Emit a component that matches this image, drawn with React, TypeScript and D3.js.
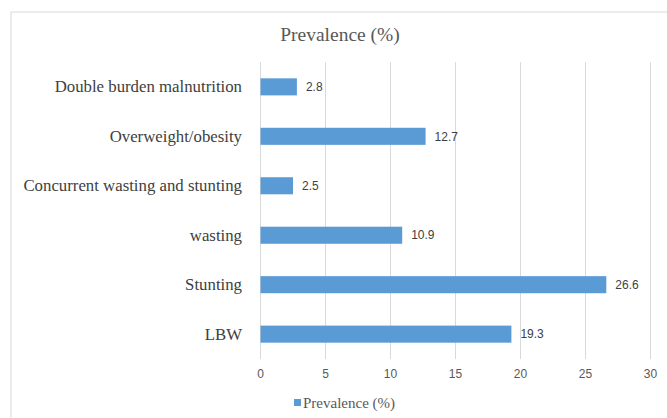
import * as d3 from "d3";
import { useEffect, useRef } from "react";

const categories = [
  "Double burden malnutrition",
  "Overweight/obesity",
  "Concurrent wasting and stunting",
  "wasting",
  "Stunting",
  "LBW",
];
const values = [2.8, 12.7, 2.5, 10.9, 26.6, 19.3];
const xTicks = [0, 5, 10, 15, 20, 25, 30];
const seriesName = "Prevalence (%)";

const W = 667;
const H = 418;
const BAR = "#5b9bd5";
const SERIF = "'Liberation Serif', 'Times New Roman', serif";
const SANS = "'Liberation Sans Narrow', 'Liberation Sans', Arial, sans-serif";

const App = () => {
  const ref = useRef<SVGSVGElement>(null);

  useEffect(() => {
    const svgEl = ref.current;
    if (!svgEl) return;
    const svg = d3.select(svgEl);
    svg.selectAll("*").remove();

    const x = d3.scaleLinear().domain([0, 30]).range([260.5, 650.5]);
    const y = d3
      .scaleBand<string>()
      .domain(categories)
      .range([62, 359])
      .paddingInner(0.655)
      .paddingOuter(0.33);

    // chart frame (cropped on right and bottom)
    svg
      .append("rect")
      .attr("x", 11)
      .attr("y", 12)
      .attr("width", W + 20)
      .attr("height", H + 20)
      .attr("fill", "#fff")
      .attr("stroke", "#d9d9d9")
      .attr("stroke-width", 1);

    svg
      .append("text")
      .attr("x", 340)
      .attr("y", 41)
      .attr("text-anchor", "middle")
      .attr("font-family", SERIF)
      .attr("font-size", 19.5)
      .attr("fill", "#595959")
      .text(seriesName);

    // gridlines
    svg
      .append("g")
      .selectAll("line")
      .data(xTicks)
      .join("line")
      .attr("x1", (d) => x(d))
      .attr("x2", (d) => x(d))
      .attr("y1", 62)
      .attr("y2", 359)
      .attr("stroke", "#d9d9d9")
      .attr("stroke-width", 1);

    // x tick labels
    svg
      .append("g")
      .selectAll("text")
      .data(xTicks)
      .join("text")
      .attr("x", (d) => x(d))
      .attr("y", 378)
      .attr("text-anchor", "middle")
      .attr("font-family", SANS)
      .attr("font-size", 12)
      .attr("fill", "#595959")
      .text((d) => d);

    // category labels
    svg
      .append("g")
      .selectAll("text")
      .data(categories)
      .join("text")
      .attr("x", 242)
      .attr("y", (d) => (y(d) ?? 0) + y.bandwidth() / 2)
      .attr("dy", "0.33em")
      .attr("text-anchor", "end")
      .attr("font-family", SERIF)
      .attr("font-size", 16.8)
      .attr("fill", "#404040")
      .text((d) => d);

    // bars
    svg
      .append("g")
      .selectAll("rect")
      .data(values)
      .join("rect")
      .attr("x", x(0))
      .attr("y", (_, i) => y(categories[i]) ?? 0)
      .attr("width", (d) => x(d) - x(0))
      .attr("height", y.bandwidth())
      .attr("fill", BAR);

    // value labels
    svg
      .append("g")
      .selectAll("text")
      .data(values)
      .join("text")
      .attr("x", (d) => x(d) + 9)
      .attr("y", (_, i) => (y(categories[i]) ?? 0) + y.bandwidth() / 2)
      .attr("dy", "0.35em")
      .attr("font-family", SANS)
      .attr("font-size", 12)
      .attr("fill", "#404040")
      .text((d) => d.toFixed(1));

    // legend
    const leg = svg.append("g").attr("transform", "translate(294,399)");
    leg.append("rect").attr("width", 7).attr("height", 7).attr("fill", BAR);
    leg
      .append("text")
      .attr("x", 9)
      .attr("y", 4)
      .attr("dy", "0.33em")
      .attr("font-family", SERIF)
      .attr("font-size", 15)
      .attr("fill", "#595959")
      .text(seriesName);
  }, []);

  return (
    <svg
      ref={ref}
      width={W}
      height={H}
      style={{ position: "absolute", left: 0, top: 0, background: "#fff" }}
    />
  );
};

export default App;
